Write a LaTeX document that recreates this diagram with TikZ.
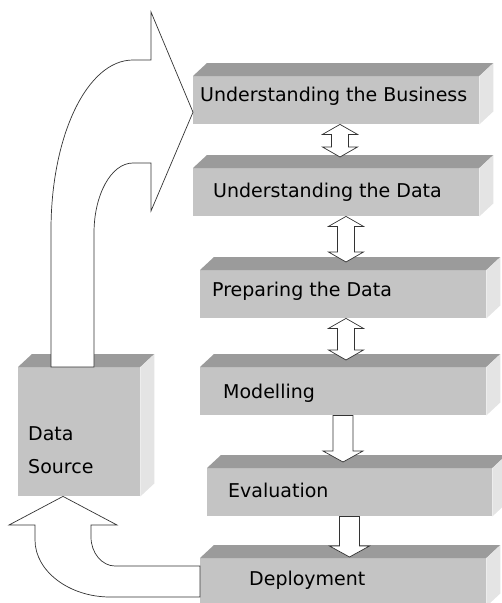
\documentclass[tikz,border=0pt]{standalone}
\usepackage{fontspec}
\setmainfont{DejaVu Sans}
\usetikzlibrary{calc,positioning}

\definecolor{frontgray}{HTML}{C4C4C4}
\definecolor{topgray}{HTML}{9B9B9B}
\definecolor{sidegray}{HTML}{E4E4E4}

\tikzset{
	stage/.style={shape=rectangle,fill=frontgray,inner sep=0pt,minimum height=48pt,anchor=north west},
	topface/.style={fill=topgray},
	sideface/.style={fill=sidegray},
	lbl/.style={inner sep=0pt,anchor=west,align=left,font=\fontsize{19}{22}\selectfont},
	blockarrow/.style={draw=black!80,line width=0.7pt,fill=white,line join=miter}
}

% two-headed block arrow from #1 (top) to #2 (bottom)
\newcommand{\twoway}[2]{%
	\draw[blockarrow] let \p1=(#1), \p2=(#2) in
		(\x1,\y1) -- (\x1+17.5pt,\y1-10pt) -- (\x1+8.5pt,\y1-10pt) -- (\x1+8.5pt,\y2+10pt)
		-- (\x1+17.5pt,\y2+10pt) -- (\x1,\y2) -- (\x1-17.5pt,\y2+10pt) -- (\x1-8.5pt,\y2+10pt)
		-- (\x1-8.5pt,\y1-10pt) -- (\x1-17.5pt,\y1-10pt) -- cycle;}
% one-headed block arrow from #1 (top) down to #2 (tip)
\newcommand{\oneway}[2]{%
	\draw[blockarrow] let \p1=(#1), \p2=(#2) in
		(\x1-10pt,\y1) -- (\x1+10pt,\y1) -- (\x1+10pt,\y2+11pt) -- (\x1+20pt,\y2+11pt)
		-- (\x1,\y2) -- (\x1-20pt,\y2+11pt) -- (\x1-10pt,\y2+11pt) -- cycle;}

\begin{document}
\begin{tikzpicture}[x=1pt,y=-1pt]
	\useasboundingbox (0,0) rectangle (502,603);

	\node[stage,minimum width=286pt] (bus) at (193,76)  {};
	\node[stage,minimum width=286pt] (dat) at (193,168) {};
	\node[stage,minimum width=286pt] (pre) at (200,270) {};
	\node[stage,minimum width=286pt] (mod) at (200,367) {};
	\node[stage,minimum width=285pt] (eva) at (207,468) {};
	\node[stage,minimum width=286pt] (dep) at (200,558) {};
	\node[stage,minimum width=122pt,minimum height=129pt] (src) at (18,367) {};

	% top and right faces
	\foreach \n in {bus,dat,pre,mod,eva,dep,src} {
		\fill[topface] (\n.north west) -- ++(14,-13) -- ($(\n.north east)+(14,-13)$) -- (\n.north east) -- cycle;
		\fill[sideface] (\n.north east) -- ++(14,-13) -- ($(\n.south east)+(14,-13)$) -- (\n.south east) -- cycle;
	}

	\node[lbl,right=7pt of bus.west,yshift=4pt]  (busT) {Understanding the Business};
	\node[lbl,right=20pt of dat.west]            (datT) {Understanding the Data};
	\node[lbl,right=12pt of pre.west,yshift=3pt] (preT) {Preparing the Data};
	\node[lbl,right=23pt of mod.west,yshift=-2pt] (modT) {Modelling};
	\node[lbl,right=21pt of eva.west,yshift=2pt] (evaT) {Evaluation};
	\node[lbl,right=49pt of dep.west,yshift=2pt] (depT) {Deployment};
	\node[lbl,right=10pt of src.west,yshift=-19pt] (srcT) {Data\\[11pt]Source};

	\twoway{$(bus.south west)+(147,0)$}{$(dat.north west)+(147,-11)$}
	\twoway{$(dat.south west)+(153,0)$}{$(pre.north west)+(146,-8)$}
	\twoway{$(pre.south west)+(146,0)$}{$(mod.north west)+(146,-7)$}
	\oneway{$(mod.south west)+(143,0)$}{$(eva.north west)+(136,-6)$}
	\oneway{$(eva.south west)+(142.5,0)$}{$(dep.north west)+(149.5,-1)$}

	% data source up to the business
	\draw[blockarrow] ($(src.north west)+(33,0)$) -- (51,230) .. controls (51,136) and (87,60) .. (133,60)
		-- (151,60) -- (151,12) -- ($(bus.west)+(0,12)$) -- (151,211) -- (151,163) -- (133,163)
		.. controls (111,163) and (94,195) .. (94,233) -- ($(src.north west)+(76,0)$) -- cycle;
	% deployment back to the data source
	\draw[blockarrow] ($(dep.north west)+(0,39)$) -- (110,597) .. controls (69,597) and (35,571) .. (35,540)
		-- (35,525) -- (9,525) -- ($(src.south west)+(45,0)$) -- (117,525) -- (91,525) -- (91,537)
		.. controls (91,553) and (102,566) .. (115,566) -- ($(dep.north west)+(0,8)$) -- cycle;
\end{tikzpicture}
\end{document}
